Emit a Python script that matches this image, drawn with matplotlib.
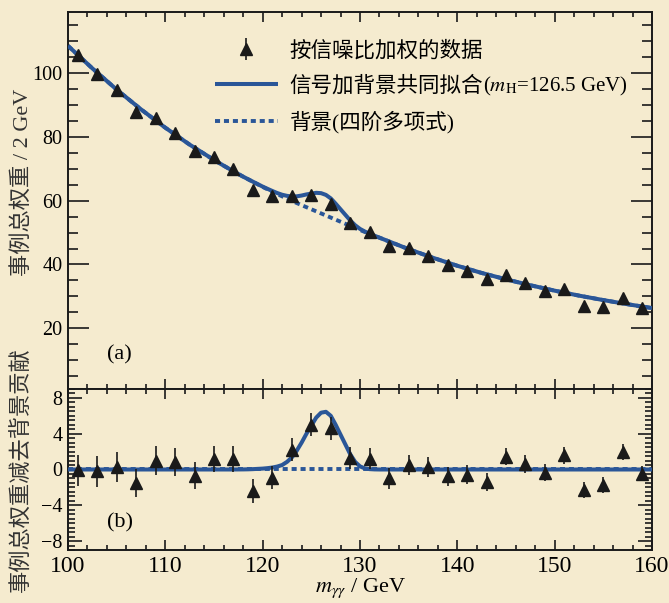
import numpy as np
import matplotlib.pyplot as plt
from matplotlib.ticker import MultipleLocator

plt.rcParams['font.family'] = ['Liberation Serif', 'Noto Sans CJK SC']
plt.rcParams['mathtext.fontset'] = 'stix'

BG = '#f5ebcf'
BLUE = '#2a5698'
INK = '#1a1a1a'

# diphoton mass bins (2 GeV wide), weighted events and errors
mass = [101, 103, 105, 107, 109, 111, 113, 115, 117, 119,
        121, 123, 125, 127, 129, 131, 133, 135, 137, 139,
        141, 143, 145, 147, 149, 151, 153, 155, 157, 159]
weighted = [105.5, 99.8, 94.8, 87.9, 85.8, 81.2, 75.7, 73.7, 70.0, 63.4,
            61.6, 61.6, 61.8, 59.0, 52.9, 50.3, 45.8, 45.1, 42.7, 39.7,
            38.0, 35.4, 36.7, 34.1, 31.7, 32.3, 27.1, 26.7, 29.4, 26.3]
errors = [1.75, 1.75, 1.65, 1.6, 1.6, 1.55, 1.5, 1.45, 1.45, 1.35,
          1.3, 1.3, 1.3, 1.3, 1.25, 1.2, 1.15, 1.15, 1.1, 1.05,
          1.05, 1.0, 1.0, 1.0, 0.95, 0.95, 0.9, 0.9, 0.9, 0.85]
residual = [-0.1, -0.2, 0.3, -1.5, 1.0, 0.85, -0.7, 1.2, 1.2, -2.4,
            -0.9, 2.2, 5.0, 4.6, 1.3, 1.2, -1.0, 0.5, 0.3, -0.75,
            -0.6, -1.4, 1.45, 0.65, -0.35, 1.6, -2.3, -1.75, 1.95, -0.45]

# fitted curves
fit_mass = [100, 102.5, 105, 107.5, 110, 112.5, 115, 116, 117,
            118, 118.5, 119, 119.5, 120, 120.5, 121, 121.5, 122, 122.5,
            123, 123.5, 124, 124.5, 125, 125.5, 126, 126.5, 127, 127.5,
            128, 128.5, 129, 129.5, 130, 130.5, 131, 131.5, 132,
            133, 135, 137.5, 140, 142.5, 145, 147.5, 150, 152.5, 155, 157.5, 160]
bg_fit = [108.5, 101.45, 94.8, 88.6, 82.85, 77.55, 72.75, 70.95, 69.2,
          67.5, 66.7, 65.9, 65.1, 64.3, 63.55, 62.8, 62.05, 61.35, 60.65,
          59.95, 59.25, 58.6, 57.95, 57.3, 56.65, 56.0, 55.35, 54.7, 54.05,
          53.4, 52.75, 52.1, 51.45, 50.8, 50.2, 49.6, 49.0, 48.4,
          47.2, 44.8, 42.1, 39.6, 37.35, 35.35, 33.5, 31.8, 30.25, 28.85, 27.55, 26.35]
sig_fit = [0, 0, 0, 0, 0, 0, 0, 0, 0,
           0.01, 0.02, 0.04, 0.07, 0.1, 0.15, 0.22, 0.33, 0.5, 0.85,
           1.35, 2.1, 3.0, 4.0, 4.9, 5.8, 6.35, 6.45, 6.0, 5.0,
           3.9, 2.8, 1.7, 0.85, 0.35, 0.12, 0.04, 0.01, 0.0,
           0, 0, 0, 0, 0, 0, 0, 0, 0, 0, 0, 0]

bg_fit = np.array(bg_fit)
sig_fit = np.array(sig_fit)

fig = plt.figure(figsize=(6.69, 6.03), dpi=100, facecolor=BG)
ax1 = fig.add_axes([0.1016, 0.3549, 0.8730, 0.6247], facecolor=BG)
ax2 = fig.add_axes([0.1016, 0.0879, 0.8730, 0.2670], facecolor=BG, sharex=ax1)

dot = (0, (1.3, 1.0))

# upper panel
l_bg, = ax1.plot(fit_mass, bg_fit, color=BLUE, lw=2.8, ls=dot, zorder=2)
l_fit, = ax1.plot(fit_mass, bg_fit + sig_fit, color=BLUE, lw=2.9, zorder=3,
                  solid_capstyle='butt')
ax1.plot(mass, weighted, '^', color=INK, ms=9, zorder=5)
ax1.set_ylim(1, 119)
ax1.yaxis.set_major_locator(MultipleLocator(20))
ax1.yaxis.set_minor_locator(MultipleLocator(5))
ax1.tick_params(axis='x', labelbottom=False)
ax1.text(0.067, 0.09, '(a)', transform=ax1.transAxes, fontsize=16, va='center')

# lower panel
ax2.plot(fit_mass, np.zeros(len(fit_mass)), color=BLUE, lw=2.8, ls=dot, zorder=2)
ax2.plot(fit_mass, sig_fit, color=BLUE, lw=2.9, zorder=3)
eb = ax2.errorbar(mass, residual, yerr=errors, fmt='^', color=INK, ms=9,
                  elinewidth=1.2, capsize=0, zorder=5)
ax2.set_ylim(-9, 9)
ax2.set_xlim(100, 160)
ax2.yaxis.set_major_locator(MultipleLocator(4))
ax2.yaxis.set_minor_locator(MultipleLocator(0.5))
ax2.text(0.067, 0.168, '(b)', transform=ax2.transAxes, fontsize=16, va='center')
ax2.set_xlabel('$m_{\\gamma\\gamma}$ / GeV', fontsize=16, labelpad=0)

leg = ax1.legend([eb, l_fit, l_bg],
                 ['按信噪比加权的数据', '信号加背景共同拟合', '背景(四阶多项式)'],
                 loc='upper left', bbox_to_anchor=(0.252, 0.923), frameon=False,
                 fontsize=15.5, handlelength=2.9, handletextpad=0.55,
                 labelspacing=0.66, borderpad=0, borderaxespad=0)

for ax in (ax1, ax2):
    ax.xaxis.set_major_locator(MultipleLocator(10))
    ax.xaxis.set_minor_locator(MultipleLocator(2))
    ax.tick_params(which='both', direction='in', top=True, right=True,
                   width=1.2, color=INK)
    ax.tick_params(axis='x', which='major', length=7, labelsize=17, pad=4)
    ax.tick_params(axis='x', which='minor', length=3.6)
    ax.tick_params(axis='y', which='major', labelsize=14.5, pad=4)
    for s in ax.spines.values():
        s.set_linewidth(1.4)
        s.set_color(INK)

ax1.tick_params(axis='y', which='major', length=15)
ax1.tick_params(axis='y', which='minor', length=7.5)
ax2.tick_params(axis='y', which='major', length=10)
ax2.tick_params(axis='y', which='minor', length=5)

fig.text(0.033, 0.697, '事例总权重 / 2 GeV', rotation=90, fontsize=16,
         ha='center', va='center', color='#333333')
fig.text(0.033, 0.222, '事例总权重减去背景贡献', rotation=90, fontsize=16,
         ha='center', va='center', color='#333333')

# mathtext has no CJK glyphs, so the m_H part goes right after the legend text
fig.canvas.draw()
t = leg.get_texts()[1]
bb = t.get_window_extent()
base = t.get_transform().transform(t.get_position())
tx, ty = fig.transFigure.inverted().transform((bb.x1, base[1]))
fig.text(tx, ty, '($m_{\\rm H}$=126.5 GeV)', va='baseline', ha='left',
         fontsize=15)

fig.savefig('out.png', dpi=100, facecolor=BG)
